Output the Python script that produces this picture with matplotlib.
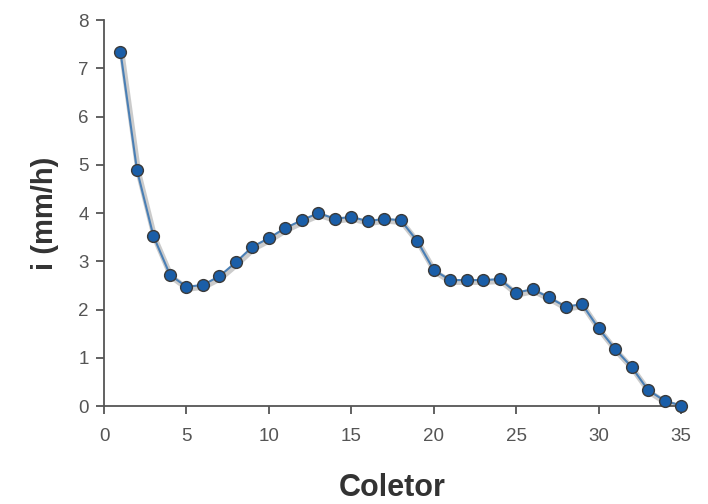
import numpy as np
import matplotlib.pyplot as plt
import matplotlib.patheffects as pe

plt.rcParams['font.family'] = ['Liberation Sans', 'DejaVu Sans']

# collector number and infiltration rate
coletor = list(range(1, 36))
taxa = [7.34, 4.89, 3.52, 2.72, 2.47, 2.51, 2.69, 2.98, 3.30, 3.48,
        3.69, 3.85, 4.00, 3.88, 3.92, 3.83, 3.88, 3.85, 3.42, 2.82,
        2.61, 2.61, 2.61, 2.63, 2.35, 2.42, 2.25, 2.06, 2.11, 1.61,
        1.18, 0.81, 0.33, 0.11, 0.01]

fig = plt.figure(figsize=(7.08, 5.04), dpi=100)
ax = fig.add_axes([0.1469, 0.1944, 0.815, 0.7659])

ax.plot(coletor, taxa, color='#4a7fb5', lw=1.5, zorder=2,
        path_effects=[pe.SimpleLineShadow(offset=(1, -1.5), shadow_color='#999999', alpha=0.5, linewidth=4),
                      pe.Normal()])
ax.plot(coletor, taxa, 'o', ms=8.5, mfc='#1a5ea8', mec='#3a3a3a', mew=1.0,
        zorder=3, clip_on=False)

ax.set_xlim(0, 35)
ax.set_ylim(0, 8)
ax.set_xticks(range(0, 36, 5))
ax.set_yticks(range(0, 9))

for s in ['top', 'right']:
    ax.spines[s].set_visible(False)
for s in ['left', 'bottom']:
    ax.spines[s].set_color('#555555')
    ax.spines[s].set_linewidth(1.3)
ax.tick_params(direction='out', length=6, width=1.3, color='#555555',
               labelcolor='#555555', labelsize=13.5)
ax.tick_params(axis='x', pad=10)
ax.tick_params(axis='y', pad=5)

ax.set_xlabel('Coletor', fontsize=22, fontweight='bold', color='#333333', labelpad=20)
ax.set_ylabel('i (mm/h)', fontsize=21, fontweight='bold', color='#333333', labelpad=14)

fig.savefig('out.png', dpi=100)
